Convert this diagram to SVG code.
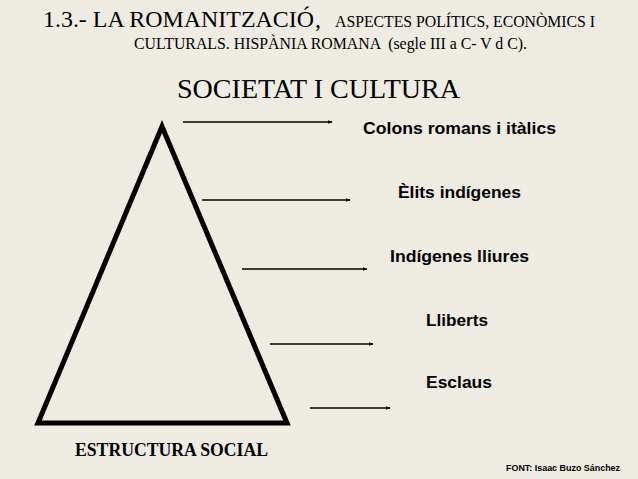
<svg xmlns="http://www.w3.org/2000/svg" width="638" height="479" viewBox="0 0 638 479">
<defs>
<marker id="ah" viewBox="0 0 10 10" refX="9" refY="5" markerWidth="5" markerHeight="5" markerUnits="userSpaceOnUse" orient="auto">
<path d="M0,1 L10,5 L0,9 Z" fill="#000"/>
</marker>
</defs>
<style>
.t{font-family:"Liberation Serif","Times New Roman",serif;fill:#000}
.b{font-family:"Liberation Sans",Arial,sans-serif;font-weight:bold;fill:#000}
.arr{stroke:#000;stroke-width:1.3;fill:none;marker-end:url(#ah)}
</style>
<rect width="638" height="479" fill="#EDEBE2"/>
<g id="title">
<text class="t" x="43" y="27" font-size="24" textLength="271" lengthAdjust="spacingAndGlyphs">1.3.- LA ROMANITZACIÓ</text>
<text class="t" x="315" y="27" font-size="24">,</text>
<text class="t" x="335" y="27" font-size="16" textLength="260" lengthAdjust="spacingAndGlyphs">ASPECTES POLÍTICS, ECONÒMICS I</text>
<text class="t" x="134" y="49" font-size="16" textLength="393" lengthAdjust="spacingAndGlyphs" xml:space="preserve">CULTURALS. HISPÀNIA ROMANA  (segle III a C- V d C).</text>
</g>
<g id="subtitle">
<text class="t" x="177" y="98" font-size="28" textLength="283" lengthAdjust="spacingAndGlyphs">SOCIETAT I CULTURA</text>
</g>
<g id="pyramid">
<polygon points="162,126.5 38,423 287,423" fill="none" stroke="#000" stroke-width="5"/>
</g>
<g id="connectors">
<line class="arr" x1="183" y1="122" x2="332" y2="122"/>
<line class="arr" x1="202" y1="200" x2="350" y2="200"/>
<line class="arr" x1="242" y1="269" x2="367" y2="269"/>
<line class="arr" x1="270" y1="344" x2="373" y2="344"/>
<line class="arr" x1="310" y1="408" x2="390" y2="408"/>
</g>
<g id="n1"><text class="b" x="363" y="134" font-size="17" textLength="193" lengthAdjust="spacingAndGlyphs">Colons romans i itàlics</text></g>
<g id="n2"><text class="b" x="398" y="198" font-size="17" textLength="123" lengthAdjust="spacingAndGlyphs">Èlits indígenes</text></g>
<g id="n3"><text class="b" x="390" y="262" font-size="17" textLength="139" lengthAdjust="spacingAndGlyphs">Indígenes lliures</text></g>
<g id="n4"><text class="b" x="426" y="326" font-size="17" textLength="62" lengthAdjust="spacingAndGlyphs">Lliberts</text></g>
<g id="n5"><text class="b" x="426" y="388" font-size="17" textLength="66" lengthAdjust="spacingAndGlyphs">Esclaus</text></g>
<g id="caption">
<text class="t" x="75" y="456" font-size="19" font-weight="bold" textLength="193" lengthAdjust="spacingAndGlyphs">ESTRUCTURA SOCIAL</text>
</g>
<g id="source">
<text class="b" x="506" y="471" font-size="9.5" textLength="114" lengthAdjust="spacingAndGlyphs">FONT: Isaac Buzo Sánchez</text>
</g>
</svg>
